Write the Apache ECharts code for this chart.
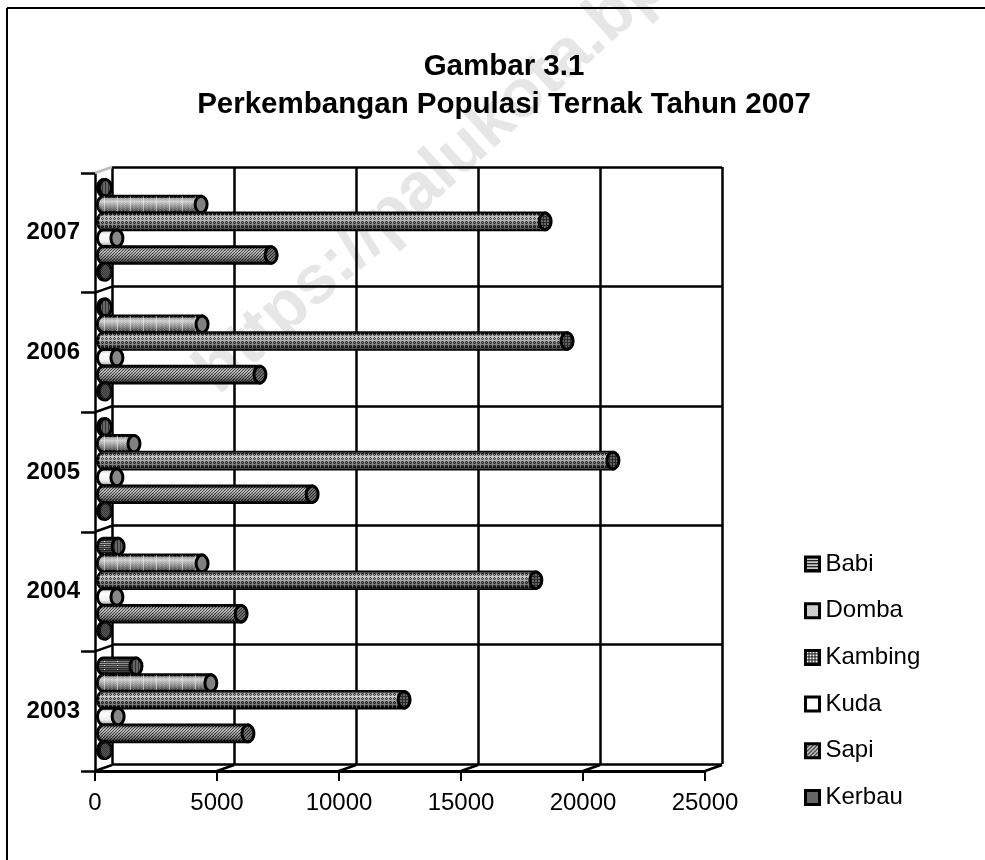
<!DOCTYPE html>
<html>
<head>
<meta charset="utf-8">
<style>
  html, body { margin: 0; padding: 0; background: #fff; overflow: hidden; }
  #chart { width: 985px; height: 860px; }
</style>
<script src="https://cdn.jsdelivr.net/npm/echarts@6/dist/echarts.min.js"></script>
</head>
<body>
<div id="chart"></div>
<script>
const years = ['2003', '2004', '2005', '2006', '2007'];
const xTicks = [0, 5000, 10000, 15000, 20000, 25000];
const seriesNames = ['Babi', 'Domba', 'Kambing', 'Kuda', 'Sapi', 'Kerbau'];
const babi = [1330, 600, 80, 80, 80];
const domba = [4400, 4040, 1250, 4040, 4000];
const kambing = [12320, 17720, 20880, 19000, 18100];
const kuda = [600, 550, 550, 550, 550];
const sapi = [5920, 5640, 8550, 6410, 6870];
const kerbau = [80, 80, 80, 80, 80];
const seriesValues = [babi, domba, kambing, kuda, sapi, kerbau];

const FONT = '"Liberation Sans", Arial, sans-serif';
const DEPTH_X = 17, DEPTH_Y = -6; // front plane -> back wall
const BAR_STEP = 16.8, RX = 6, RY = 8.3;

// small repeating tile, paint(x, y) returns a css color or null
function tile(w, h, paint) {
  const c = document.createElement('canvas');
  c.width = w; c.height = h;
  const ctx = c.getContext('2d');
  for (let y = 0; y < h; y++) {
    for (let x = 0; x < w; x++) {
      const col = paint(x, y);
      if (col) { ctx.fillStyle = col; ctx.fillRect(x, y, 1, 1); }
    }
  }
  return { image: c, repeat: 'repeat' };
}

function shade(stops) {
  return {
    type: 'linear', x: 0, y: 0, x2: 0, y2: 1,
    colorStops: stops.map((c, i) => ({ offset: i / (stops.length - 1), color: c }))
  };
}

const looks = {
  Babi: {
    body: shade(['#222', '#999', '#555', '#111']),
    cap: '#666',
    over: tile(13, 4, (x, y) => x === 0 && y % 4 === 1 ? 'rgba(255,255,255,.9)' : y % 2 === 0 ? 'rgba(0,0,0,.6)' : null),
    capOver: tile(3, 2, (x) => x === 0 ? 'rgba(0,0,0,.5)' : null),
    legend: tile(4, 3, (x, y) => y === 0 ? '#222' : y === 1 ? '#999' : '#ccc')
  },
  Domba: {
    body: shade(['#666', '#cfcfcf', '#7d7d7d', '#1a1a1a']),
    cap: '#808080',
    over: tile(13, 2, (x, y) => x === 0 ? 'rgba(255,255,255,.5)' : (x + y) % 4 === 0 ? 'rgba(255,255,255,.2)' : null),
    legend: tile(3, 3, (x, y) => (x + y) % 3 === 0 ? '#aaa' : '#ddd')
  },
  Kambing: {
    body: shade(['#555', '#bbb', '#555', '#000']),
    cap: '#666',
    over: tile(4, 4, (x, y) => x === 0 || y === 0 ? 'rgba(255,255,255,.3)' : (x + y) % 2 ? 'rgba(0,0,0,.6)' : null),
    capOver: tile(3, 3, (x, y) => x === 0 || y === 0 ? 'rgba(0,0,0,.6)' : null),
    legend: tile(3, 3, (x, y) => x === 0 || y === 0 ? '#111' : '#fff')
  },
  Kuda: {
    body: shade(['#bbb', '#fff', '#eee', '#888']),
    cap: '#888',
    legend: '#fff'
  },
  Sapi: {
    body: shade(['#666', '#bbb', '#777', '#111']),
    cap: '#707070',
    over: tile(3, 3, (x, y) => (x + y) % 3 === 0 ? 'rgba(0,0,0,.6)' : (x - y + 3) % 3 === 1 ? 'rgba(255,255,255,.2)' : null),
    capOver: tile(3, 3, (x, y) => (x + y) % 3 === 0 ? 'rgba(0,0,0,.6)' : null),
    legend: tile(4, 4, (x, y) => (x + y) % 4 === 0 ? '#222' : (x + y) % 4 === 2 ? '#eee' : '#888')
  },
  Kerbau: {
    body: shade(['#333', '#777', '#444', '#111']),
    cap: '#3a3a3a',
    over: tile(2, 2, (x, y) => (x + y) % 2 ? 'rgba(0,0,0,.45)' : null),
    capOver: tile(2, 2, (x, y) => (x + y) % 2 ? 'rgba(255,255,255,.15)' : null),
    legend: tile(2, 2, (x, y) => (x + y) % 2 ? '#444' : '#888')
  }
};

function cylinder(seriesIndex, look) {
  return function (params, api) {
    const p = api.coord([api.value(0), api.value(1)]);
    const zero = api.coord([0, api.value(1)]);
    const y = p[1] + DEPTH_Y / 2 + (seriesIndex - 2.5) * BAR_STEP;
    const x0 = zero[0] + DEPTH_X / 2;
    const x1 = p[0] + DEPTH_X / 2;
    const points = [[x1, y - RY]];
    for (let a = 90; a <= 270; a += 15) {
      const r = a * Math.PI / 180;
      points.push([x0 + RX * Math.cos(r), y - RY * Math.sin(r)]);
    }
    points.push([x1, y + RY]);
    const children = [{
      type: 'polygon',
      shape: { points: points },
      style: { fill: look.body, stroke: '#000', lineWidth: 3 }
    }];
    if (look.over) {
      children.push({ type: 'polygon', shape: { points: points }, style: { fill: look.over } });
    }
    children.push({
      type: 'ellipse',
      shape: { cx: x1, cy: y, rx: RX, ry: RY },
      style: { fill: look.cap, stroke: '#000', lineWidth: 3 }
    });
    if (look.capOver) {
      children.push({ type: 'ellipse', shape: { cx: x1, cy: y, rx: RX, ry: RY }, style: { fill: look.capOver } });
    }
    return { type: 'group', children: children };
  };
}

const barSeries = seriesNames.map((name, i) => ({
  name: name,
  type: 'custom',
  xAxisIndex: 0,
  yAxisIndex: 0,
  clip: false,
  z: 3,
  itemStyle: { color: looks[name].legend, borderColor: '#000', borderWidth: 3 },
  encode: { x: 0, y: 1 },
  renderItem: cylinder(i, looks[name]),
  data: seriesValues[i].map((v, j) => [v, j])
}));

// diagonals joining the front axes to the back wall
const floorSeries = {
  type: 'custom',
  xAxisIndex: 0,
  yAxisIndex: 0,
  clip: false,
  z: 1,
  silent: true,
  renderItem: function (params, api) {
    const p = api.coord([api.value(0), 0]);
    const y = p[1] + api.size([0, 1])[1] / 2;
    return {
      type: 'line',
      shape: { x1: p[0], y1: y, x2: p[0] + DEPTH_X, y2: y + DEPTH_Y },
      style: { stroke: '#000', lineWidth: 2.5 }
    };
  },
  data: xTicks.map(v => [v, 0])
};
const wallSeries = {
  type: 'custom',
  xAxisIndex: 0,
  yAxisIndex: 0,
  clip: false,
  z: 1,
  silent: true,
  renderItem: function (params, api) {
    const idx = api.value(1);
    const p = api.coord([0, idx]);
    const y = p[1] - api.size([0, 1])[1] / 2;
    return {
      type: 'line',
      shape: { x1: p[0], y1: y, x2: p[0] + DEPTH_X, y2: y + DEPTH_Y },
      style: { stroke: idx === years.length - 1 ? '#bbb' : '#000', lineWidth: 2.5 }
    };
  },
  data: years.map((y, i) => [0, i])
};

const chart = echarts.init(document.getElementById('chart'));
chart.setOption({
  animation: false,
  backgroundColor: '#fff',
  title: {
    text: 'Gambar 3.1\nPerkembangan Populasi Ternak Tahun 2007',
    left: 499,
    top: 43,
    textAlign: 'center',
    textStyle: { fontFamily: FONT, fontSize: 29.5, fontWeight: 'bold', color: '#000', lineHeight: 38 }
  },
  graphic: [
    // outer frame runs off the page on the right and at the bottom
    { type: 'line', shape: { x1: 7, y1: 8, x2: 985, y2: 8 }, style: { stroke: '#000', lineWidth: 2 } },
    { type: 'line', shape: { x1: 7, y1: 8, x2: 7, y2: 860 }, style: { stroke: '#000', lineWidth: 2 } },
    {
      type: 'text',
      x: 206,
      y: 382,
      rotation: 42 * Math.PI / 180,
      z: -1,
      style: {
        text: 'https://palukota.bps.go.id',
        font: 'bold 68px ' + FONT,
        fill: '#e6e6e6',
        textVerticalAlign: 'middle'
      }
    }
  ],
  legend: {
    orient: 'vertical',
    left: 799,
    top: 547,
    icon: 'rect',
    itemWidth: 14,
    itemHeight: 14,
    itemGap: 22.7,
    itemStyle: { borderColor: '#000', borderWidth: 3 },
    data: seriesNames,
    selectedMode: false,
    textStyle: { fontFamily: FONT, fontSize: 24, color: '#000', lineHeight: 22, padding: [0, 0, 0, 1] }
  },
  grid: [
    { left: 95, top: 173, width: 610, height: 598 },
    { left: 112, top: 167, width: 610, height: 597 }
  ],
  xAxis: [
    {
      type: 'value', gridIndex: 0, min: 0, max: 25000, interval: 5000,
      axisLine: { show: true, onZero: false, lineStyle: { color: '#000', width: 3 } },
      axisTick: { show: true, length: 10, lineStyle: { color: '#000', width: 2 } },
      axisLabel: { margin: 20, fontFamily: FONT, fontSize: 24, color: '#000', formatter: v => String(v) },
      splitLine: { show: false }
    },
    {
      type: 'value', gridIndex: 1, min: 0, max: 25000, interval: 5000,
      axisLine: { show: false }, axisTick: { show: false }, axisLabel: { show: false },
      splitLine: { show: true, lineStyle: { color: '#000', width: 2.5 } }
    }
  ],
  yAxis: [
    {
      type: 'category', gridIndex: 0, data: years,
      axisLine: { show: true, onZero: false, lineStyle: { color: '#000', width: 2.5 } },
      axisTick: { show: true, length: 14, alignWithLabel: false, lineStyle: { color: '#000', width: 2.5 } },
      axisLabel: { margin: 15, fontFamily: FONT, fontSize: 24, fontWeight: 'bold', color: '#000' },
      splitLine: { show: false }
    },
    {
      type: 'category', gridIndex: 1, data: years,
      axisLine: { show: false }, axisTick: { show: false }, axisLabel: { show: false },
      splitLine: { show: true, lineStyle: { color: '#000', width: 2.5 } }
    }
  ],
  series: barSeries.concat([floorSeries, wallSeries])
});
window.addEventListener('resize', () => chart.resize());
</script>
</body>
</html>
